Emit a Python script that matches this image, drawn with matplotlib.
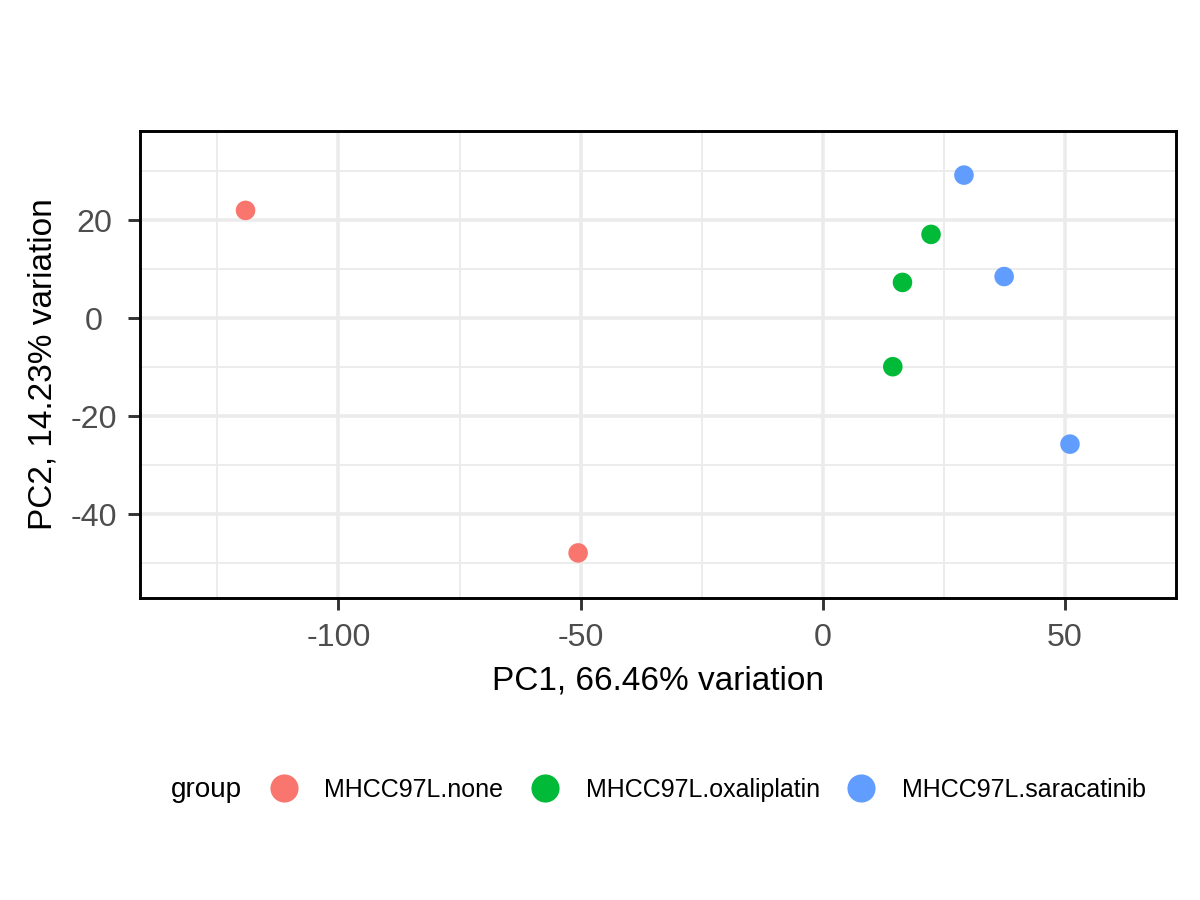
import matplotlib
matplotlib.use("Agg")
import matplotlib.pyplot as plt
from matplotlib.lines import Line2D
from matplotlib.ticker import MultipleLocator

plt.rcParams["font.family"] = ["Liberation Sans", "DejaVu Sans"]
plt.rcParams["axes.unicode_minus"] = False

# PCA scores
groups = ["MHCC97L.none", "MHCC97L.none",
          "MHCC97L.oxaliplatin", "MHCC97L.oxaliplatin", "MHCC97L.oxaliplatin",
          "MHCC97L.saracatinib", "MHCC97L.saracatinib", "MHCC97L.saracatinib"]
pc1 = [-119.2, -50.5, 22.4, 16.5, 14.5, 29.2, 37.5, 51.1]
pc2 = [22.0, -47.9, 17.1, 7.3, -9.9, 29.2, 8.5, -25.7]

levels = ["MHCC97L.none", "MHCC97L.oxaliplatin", "MHCC97L.saracatinib"]
palette = {"MHCC97L.none": "#F8766D",
           "MHCC97L.oxaliplatin": "#00BA38",
           "MHCC97L.saracatinib": "#619CFF"}

x_ticks = [-100, -50, 0, 50]
y_ticks = [-40, -20, 0, 20]

fig = plt.figure(figsize=(8, 6), dpi=150)
ax = fig.add_axes([140 / 1200, 1 - 598 / 900, (1176 - 140) / 1200, (598 - 131) / 900])

for lev in levels:
    xs = [x for x, g in zip(pc1, groups) if g == lev]
    ys = [y for y, g in zip(pc2, groups) if g == lev]
    ax.scatter(xs, ys, s=88, color=palette[lev], edgecolors="none", zorder=3)

ax.set_xlim(-141.0, 73.0)
ax.set_ylim(-57.1, 38.2)
ax.set_xticks(x_ticks)
ax.set_yticks(y_ticks)
ax.xaxis.set_minor_locator(MultipleLocator(25))
ax.yaxis.set_minor_locator(MultipleLocator(10))

ax.grid(which="major", color="#EBEBEB", linewidth=1.7, zorder=0)
ax.grid(which="minor", color="#EBEBEB", linewidth=0.9, zorder=0)
ax.set_axisbelow(True)

for sp in ax.spines.values():
    sp.set_color("black")
    sp.set_linewidth(1.4)

ax.tick_params(which="major", length=5.6, width=1.4, color="#333333",
               labelcolor="#4D4D4D", labelsize=15.5)
ax.tick_params(which="minor", length=0)
ax.tick_params(axis="x", pad=6.5)
ax.tick_params(axis="y", pad=16.5)
for lab in ax.get_yticklabels():
    lab.set_horizontalalignment("center")

ax.set_xlabel("PC1, 66.46% variation", fontsize=16, labelpad=6)
ax.set_ylabel("PC2, 14.23% variation", fontsize=16, labelpad=6)

# legend laid out horizontally below the panel, title on the left
handles = [Line2D([], [], linestyle="none", marker="o", markersize=13.5,
                  markerfacecolor=palette[lev], markeredgecolor="none")
           for lev in levels]
fig.text(171 / 1200, 1 - 790 / 900, "group", fontsize=13.4, va="center", ha="left")
fig.legend(handles, levels, loc="center left",
           bbox_to_anchor=(270 / 1200, 1 - 790 / 900),
           ncol=3, frameon=False, fontsize=12, handlelength=1.08,
           handletextpad=1.1, columnspacing=1.1, borderpad=0, borderaxespad=0)

fig.savefig("out.png", dpi=150)
